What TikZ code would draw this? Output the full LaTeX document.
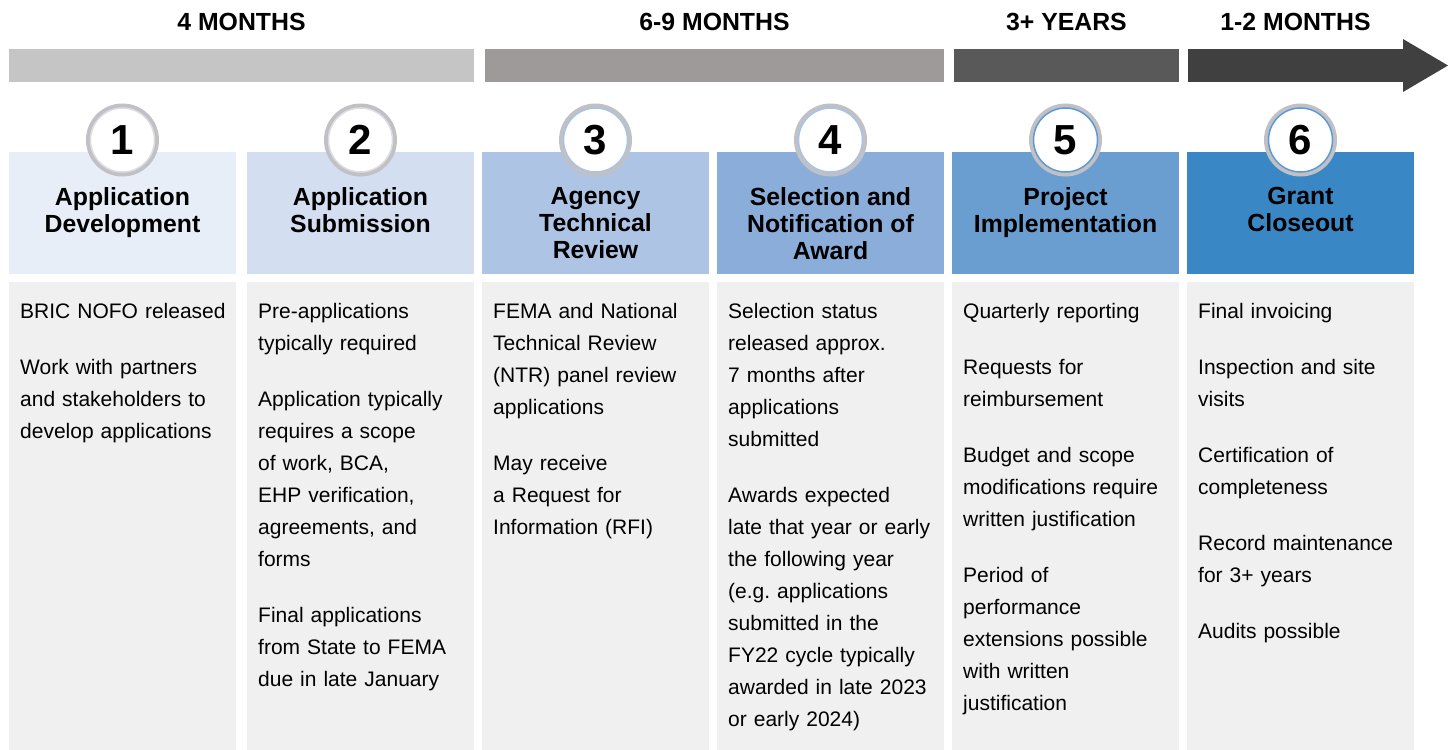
\documentclass[tikz,border=0pt]{standalone}
\usepackage{fontspec}
\setmainfont{Liberation Sans}
\usepackage{xcolor}
\usetikzlibrary{positioning}
\definecolor{barA}{HTML}{C6C5C6}
\definecolor{barB}{HTML}{9D9A99}
\definecolor{barC}{HTML}{595959}
\definecolor{barD}{HTML}{404040}
\definecolor{hdrA}{HTML}{E8EEF7}
\definecolor{hdrB}{HTML}{D3DEF0}
\definecolor{hdrC}{HTML}{AEC4E4}
\definecolor{hdrD}{HTML}{8AADDA}
\definecolor{hdrE}{HTML}{6A9ED1}
\definecolor{hdrF}{HTML}{3A87C5}
\definecolor{bodygray}{HTML}{EFF0EF}
\definecolor{ringgray}{HTML}{C1C0C5}
\definecolor{ringpale}{HTML}{DCDDE3}
\definecolor{ringlight}{HTML}{A7C3E6}
\definecolor{ringblue}{HTML}{5B9BD5}
\tikzset{
bar/.style = {rectangle, minimum height=33pt, inner sep=0pt, outer sep=0pt},
span/.style = {inner sep=0pt, font=\fontsize{24.8}{27}\selectfont\bfseries},
stage/.style = {rectangle, minimum width=227pt, minimum height=122pt, inner sep=0pt, outer sep=0pt},
panel/.style = {rectangle, fill=bodygray, minimum width=227pt, minimum height=470pt, inner sep=0pt, outer sep=0pt},
title/.style = {align=center, inner sep=0pt, font=\fontsize{24.8}{27}\selectfont\bfseries},
num/.style = {circle, fill=white, draw=#1, line width=1.5pt, minimum size=64pt, inner sep=0pt,
  preaction={draw=ringgray, line width=9pt}, font=\fontsize{42}{42}\selectfont\bfseries},
info/.style = {align=left, text width=214pt, inner sep=0pt, anchor=north west, font=\fontsize{21}{32}\selectfont}
}

\begin{document}
\begin{tikzpicture}[x=1pt, y=1pt]
    \useasboundingbox (0,0) rectangle (1455,-749);
    % timeline
    \node [bar, fill=barA, minimum width=465pt, anchor=north west] (bar1) at (9,-49) {};
    \node [bar, fill=barB, minimum width=459pt, right=11pt of bar1] (bar2) {};
    \node [bar, fill=barC, minimum width=225pt, right=10pt of bar2] (bar3) {};
    \node [bar, fill=barD, minimum width=215pt, right=9pt of bar3] (bar4) {};
    \fill [barD] (bar4.north east) -- ++(0,10) -- ([xshift=45pt]bar4.east) -- ([yshift=-10pt]bar4.south east) -- (bar4.south east) -- cycle;
    \node [span, above=18pt of bar1] (span1) {4 MONTHS};
    \node [span, above=18pt of bar2] (span2) {6-9 MONTHS};
    \node [span, above=18pt of bar3] (span3) {3+ YEARS};
    \node [span, above=18pt of bar4] (span4) {1-2 MONTHS};
    % stage headers
    \node [stage, fill=hdrA, anchor=north west] (hdr1) at (9,-152) {};
    \node [stage, fill=hdrB, right=11pt of hdr1] (hdr2) {};
    \node [stage, fill=hdrC, right=8pt of hdr2] (hdr3) {};
    \node [stage, fill=hdrD, right=8pt of hdr3] (hdr4) {};
    \node [stage, fill=hdrE, right=8pt of hdr4] (hdr5) {};
    \node [stage, fill=hdrF, right=8pt of hdr5] (hdr6) {};
    \node [title, below=35pt of hdr1.north] (title1) {Application\\Development};
    \node [title, below=35pt of hdr2.north] (title2) {Application\\Submission};
    \node [title, below=35pt of hdr3.north] (title3) {Agency\\Technical\\Review};
    \node [title, below=35pt of hdr4.north] (title4) {Selection and\\Notification of\\Award};
    \node [title, below=35pt of hdr5.north] (title5) {Project\\Implementation};
    \node [title, below=35pt of hdr6.north] (title6) {Grant\\Closeout};
    \node [num=ringpale] (num1) at ([yshift=12pt]hdr1.north) {1};
    \node [num=ringpale] (num2) at ([yshift=12pt]hdr2.north) {2};
    \node [num=ringlight] (num3) at ([yshift=12pt]hdr3.north) {3};
    \node [num=ringlight] (num4) at ([yshift=12pt]hdr4.north) {4};
    \node [num=ringblue] (num5) at ([yshift=12pt]hdr5.north) {5};
    \node [num=ringblue] (num6) at ([yshift=12pt]hdr6.north) {6};
    % details
    \node [panel, below=8pt of hdr1] (panel1) {};
    \node [panel, below=8pt of hdr2] (panel2) {};
    \node [panel, below=8pt of hdr3] (panel3) {};
    \node [panel, below=8pt of hdr4] (panel4) {};
    \node [panel, below=8pt of hdr5] (panel5) {};
    \node [panel, below=8pt of hdr6] (panel6) {};
    \node [info] (info1) at ([shift={(11,-21)}]panel1.north west) {BRIC NOFO released\\[24pt]
      Work with partners\\and stakeholders to\\develop applications};
    \node [info] (info2) at ([shift={(11,-21)}]panel2.north west) {Pre-applications\\typically required\\[24pt]
      Application typically\\requires a scope\\of work, BCA,\\EHP verification,\\agreements, and\\forms\\[24pt]
      Final applications\\from State to FEMA\\due in late January};
    \node [info] (info3) at ([shift={(11,-21)}]panel3.north west) {FEMA and National\\Technical Review\\(NTR) panel review\\applications\\[24pt]
      May receive\\a Request for\\Information (RFI)};
    \node [info] (info4) at ([shift={(11,-21)}]panel4.north west) {Selection status\\released approx.\\7 months after\\applications\\submitted\\[24pt]
      Awards expected\\late that year or early\\the following year\\(e.g.\ applications\\submitted in the\\FY22 cycle typically\\awarded in late 2023\\or early 2024)};
    \node [info] (info5) at ([shift={(11,-21)}]panel5.north west) {Quarterly reporting\\[24pt]
      Requests for\\reimbursement\\[24pt]
      Budget and scope\\modifications require\\written justification\\[24pt]
      Period of\\performance\\extensions possible\\with written\\justification};
    \node [info] (info6) at ([shift={(11,-21)}]panel6.north west) {Final invoicing\\[24pt]
      Inspection and site\\visits\\[24pt]
      Certification of\\completeness\\[24pt]
      Record maintenance\\for 3+ years\\[24pt]
      Audits possible};
\end{tikzpicture}
\end{document}
